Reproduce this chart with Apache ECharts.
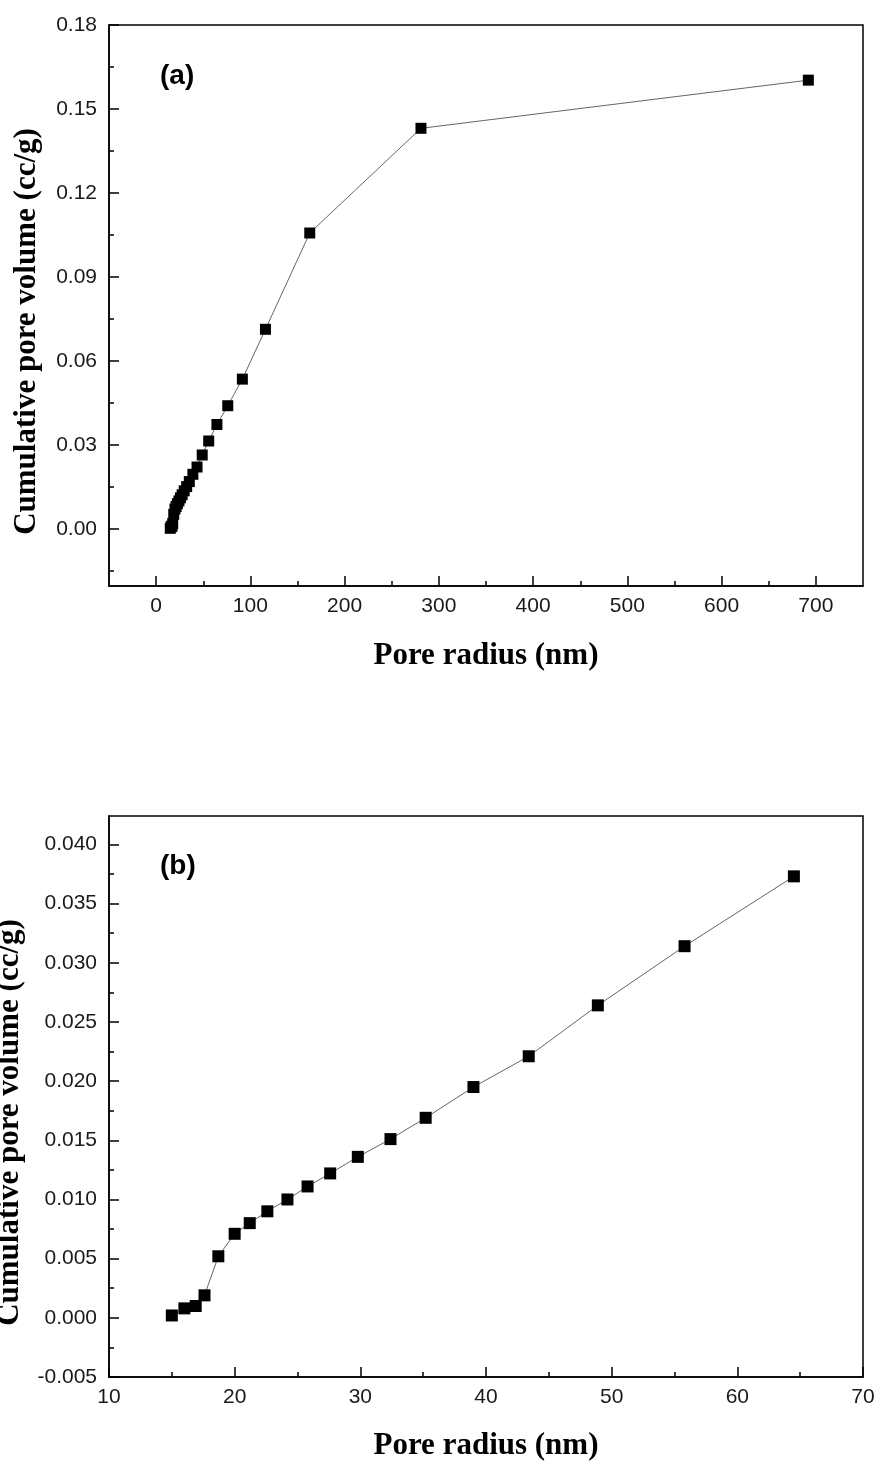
<!DOCTYPE html>
<html>
<head>
<meta charset="utf-8">
<script src="https://cdn.jsdelivr.net/npm/echarts@6/dist/echarts.min.js"></script>
<style>
html,body{margin:0;padding:0;background:#fff;}
#c{width:876px;height:1461px;}
</style>
</head>
<body>
<div id="c"></div>
<script>
// ---- data ----
const radiiA = [15.0, 16.0, 16.9, 17.6, 18.7, 20.0, 21.2, 22.6, 24.2, 25.8, 27.6, 29.8, 32.4, 35.2, 39.0, 43.4, 48.9, 55.8, 64.5, 76.0, 91.5, 116.0, 163.0, 281.0, 692.0];
const volumeA = [0.0002, 0.0008, 0.0010, 0.0019, 0.0052, 0.0071, 0.0080, 0.0090, 0.0100, 0.0111, 0.0122, 0.0136, 0.0151, 0.0169, 0.0195, 0.0221, 0.0264, 0.0314, 0.0373, 0.0440, 0.0535, 0.0713, 0.1057, 0.1431, 0.1603];
const radiiB = [15.0, 16.0, 16.9, 17.6, 18.7, 20.0, 21.2, 22.6, 24.2, 25.8, 27.6, 29.8, 32.4, 35.2, 39.0, 43.4, 48.9, 55.8, 64.5];
const volumeB = [0.0002, 0.0008, 0.0010, 0.0019, 0.0052, 0.0071, 0.0080, 0.0090, 0.0100, 0.0111, 0.0122, 0.0136, 0.0151, 0.0169, 0.0195, 0.0221, 0.0264, 0.0314, 0.0373];

// ---- tick values ----
const xTicksA = [0, 100, 200, 300, 400, 500, 600, 700];
const xMinorA = [50, 150, 250, 350, 450, 550, 650];
const yTicksA = [0.00, 0.03, 0.06, 0.09, 0.12, 0.15, 0.18];
const yMinorA = [-0.015, 0.015, 0.045, 0.075, 0.105, 0.135, 0.165];
const xTicksB = [10, 20, 30, 40, 50, 60, 70];
const xMinorB = [15, 25, 35, 45, 55, 65];
const yTicksB = [-0.005, 0.000, 0.005, 0.010, 0.015, 0.020, 0.025, 0.030, 0.035, 0.040];
const yMinorB = [-0.0025, 0.0025, 0.0075, 0.0125, 0.0175, 0.0225, 0.0275, 0.0325, 0.0375];

const xNameText = 'Pore radius (nm)';
const yNameText = 'Cumulative pore volume (cc/g)';

const extA = {xMin: -50, xMax: 750, yMin: -0.0204, yMax: 0.18};
const extB = {xMin: 10, xMax: 70, yMin: -0.005, yMax: 0.0424};

const labelFont = {fontFamily: 'Liberation Sans', fontSize: 21, color: '#1a1a1a'};
const nameFontX = {fontFamily: 'Liberation Serif', fontWeight: 'bold', fontSize: 31, color: '#000'};
const nameFontY = {fontFamily: 'Liberation Serif', fontWeight: 'bold', fontSize: 31, color: '#000', padding: [0, 52, 0, 0]};
const lineStyle = {color: '#000', width: 1.5};

function majorAxis(kind, grid, ext, ticks, fmt, name, gap, margin) {
  const isX = kind === 'x';
  return {
    type: 'value', gridIndex: grid,
    position: isX ? 'bottom' : 'left',
    min: isX ? ext.xMin : ext.yMin, max: isX ? ext.xMax : ext.yMax,
    name: name, nameLocation: 'middle', nameGap: gap, nameTextStyle: isX ? nameFontX : nameFontY,
    axisLine: {show: true, onZero: false, lineStyle: lineStyle},
    axisTick: {show: true, inside: true, length: 10, customValues: ticks, lineStyle: lineStyle},
    axisLabel: Object.assign({show: true, margin: margin, customValues: ticks, formatter: fmt}, labelFont),
    splitLine: {show: false}
  };
}
function minorAxis(kind, grid, ext, ticks) {
  const isX = kind === 'x';
  return {
    type: 'value', gridIndex: grid,
    position: isX ? 'bottom' : 'left',
    min: isX ? ext.xMin : ext.yMin, max: isX ? ext.xMax : ext.yMax,
    axisLine: {show: false, onZero: false},
    axisTick: {show: true, inside: true, length: 5, customValues: ticks, lineStyle: lineStyle},
    axisLabel: {show: false},
    splitLine: {show: false}
  };
}

function pairs(xs, ys) { return xs.map((x, i) => [x, ys[i]]); }

const chart = echarts.init(document.getElementById('c'), null, {renderer: 'canvas'});
chart.setOption({
  animation: false,
  backgroundColor: '#fff',
  title: [
    {text: '(a)', left: 155, top: 57, textStyle: {fontFamily: 'Liberation Sans', fontWeight: 'bold', fontSize: 28, color: '#000'}},
    {text: '(b)', left: 155, top: 847, textStyle: {fontFamily: 'Liberation Sans', fontWeight: 'bold', fontSize: 28, color: '#000'}}
  ],
  grid: [
    {left: 109, top: 25, width: 754, height: 561, outerBoundsMode: 'none', containLabel: false, show: true, borderColor: '#000', borderWidth: 1.5, backgroundColor: 'transparent'},
    {left: 109, top: 816, width: 754, height: 561, outerBoundsMode: 'none', containLabel: false, show: true, borderColor: '#000', borderWidth: 1.5, backgroundColor: 'transparent'}
  ],
  xAxis: [
    majorAxis('x', 0, extA, xTicksA, v => String(v), xNameText, 54, 10),
    minorAxis('x', 0, extA, xMinorA),
    majorAxis('x', 1, extB, xTicksB, v => String(v), xNameText, 53, 10),
    minorAxis('x', 1, extB, xMinorB)
  ],
  yAxis: [
    majorAxis('y', 0, extA, yTicksA, v => v.toFixed(2), yNameText, 67, 12),
    minorAxis('y', 0, extA, yMinorA),
    majorAxis('y', 1, extB, yTicksB, v => v.toFixed(3), yNameText, 84, 12),
    minorAxis('y', 1, extB, yMinorB)
  ],
  series: [
    {type: 'line', xAxisIndex: 0, yAxisIndex: 0, data: pairs(radiiA, volumeA),
     symbol: 'rect', symbolSize: 11, itemStyle: {color: '#000'},
     lineStyle: {color: '#666', width: 1}},
    {type: 'line', xAxisIndex: 2, yAxisIndex: 2, data: pairs(radiiB, volumeB),
     symbol: 'rect', symbolSize: 12, itemStyle: {color: '#000'},
     lineStyle: {color: '#666', width: 1}}
  ]
});
</script>
</body>
</html>
